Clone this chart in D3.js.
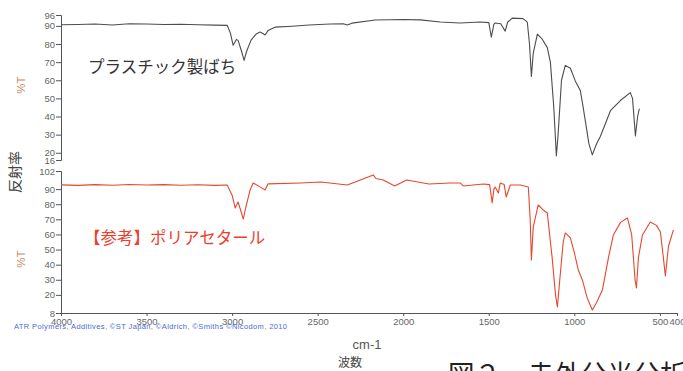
<!DOCTYPE html>
<html>
<head>
<meta charset="utf-8">
<script src="https://cdn.jsdelivr.net/npm/d3@7"></script>
<style>
  body { margin: 0; background: #fff; }
  .axis path, .axis line { stroke: #555; }
  .axis text { fill: #666; font-family: "Liberation Sans", Arial, sans-serif; font-size: 9.5px; }
</style>
</head>
<body>
<div class="chart"></div>
<script>
// wavenumber (cm-1), %T
const sampleSpectrum = [
  [4000, 90.6], [3900, 90.8], [3800, 91.0], [3700, 90.5], [3600, 91.2], [3500, 91.0], [3400, 90.8],
  [3300, 90.9], [3200, 90.6], [3100, 90.4], [3029, 90.3], [3010, 86], [2994, 79.3], [2975, 82.5],
  [2965, 82], [2945, 76], [2930, 71], [2915, 76], [2890, 82], [2860, 85.5], [2836, 86.6], [2820, 85.8],
  [2807, 85], [2790, 87.5], [2749, 89.3], [2650, 89.8], [2550, 90.5], [2427, 91], [2350, 91.2],
  [2327, 90.5], [2300, 91.5], [2164, 93.2], [2000, 93.5], [1900, 93.3], [1784, 92.1], [1667, 91.6],
  [1550, 92.1], [1500, 91.8], [1485, 83.8], [1470, 91], [1462, 91.6], [1430, 91.2], [1404, 87.1],
  [1390, 92], [1363, 94.3], [1300, 94], [1287, 93], [1275, 92.1], [1262, 80], [1251, 62.1], [1240, 75],
  [1216, 85.4], [1190, 83], [1158, 78], [1140, 70], [1120, 45], [1105, 18.2], [1095, 30], [1075, 60],
  [1053, 68.2], [1023, 66.6], [994, 59.5], [965, 54.3], [950, 46], [936, 37.7], [915, 25], [895, 18.8],
  [870, 25], [848, 29], [789, 43.2], [731, 48.8], [673, 53.2], [660, 50], [643, 29.3], [630, 40], [620, 44.3]
];

const referenceSpectrum = [
  [4000, 92.8], [3900, 92.5], [3800, 93.0], [3700, 92.6], [3600, 93.1], [3500, 92.7], [3400, 93.0],
  [3300, 92.6], [3200, 92.9], [3100, 92.5], [3029, 92.7], [3000, 86], [2982, 77.5], [2965, 81.5],
  [2950, 76], [2935, 70.2], [2920, 78], [2895, 89.4], [2877, 94.1], [2830, 91], [2807, 89.4],
  [2790, 93.5], [2600, 94.1], [2480, 94.7], [2327, 92.7], [2250, 96], [2175, 99.4], [2160, 97],
  [2117, 96], [2050, 92.1], [1980, 96], [1850, 93.4], [1725, 94.1], [1667, 94.1], [1649, 92.1],
  [1532, 93.4], [1495, 93], [1480, 80.8], [1470, 90], [1462, 91.4], [1444, 87.4], [1433, 94.1],
  [1410, 93], [1398, 84.8], [1374, 92.7], [1316, 92.7], [1269, 91.4], [1258, 70], [1251, 43.1],
  [1240, 65], [1211, 79.5], [1180, 76], [1158, 74.2], [1130, 45], [1110, 20], [1099, 12], [1085, 30],
  [1065, 55], [1053, 61], [1023, 57.7], [1000, 48], [977, 36.5], [953, 29.9], [925, 18], [895, 10],
  [870, 15], [836, 23.2], [800, 45], [772, 59.6], [730, 68], [690, 70.9], [665, 60], [645, 30],
  [637, 24.6], [625, 45], [602, 59.6], [556, 68.2], [520, 66], [497, 61.6], [480, 45], [468, 32.5],
  [450, 52], [421, 63]
];

const xTickValues = [4000, 3500, 3000, 2500, 2000, 1500, 1000, 500, 400];
const topTickValues = [96, 90, 80, 70, 60, 50, 40, 30, 20, 16];
const bottomTickValues = [102, 90, 80, 70, 60, 50, 40, 30, 20, 8];

const width = 683, height = 371;
const jpFont = '"Noto Sans CJK JP", sans-serif';

const svg = d3.select(".chart").append("svg")
  .attr("width", width)
  .attr("height", height);

const x = d3.scaleLinear().domain([4000, 400]).range([61, 677]);
const yTop = d3.scaleLinear().domain([96, 16]).range([15, 160]);
const yBottom = d3.scaleLinear().domain([102, 8]).range([171, 313]);

function addYAxis(scale, ticks) {
  svg.append("g")
    .attr("class", "axis")
    .attr("transform", "translate(61,0)")
    .call(d3.axisLeft(scale).tickValues(ticks).tickSize(5).tickPadding(1).tickSizeOuter(5));
}

function addPath(data, scale, color) {
  const line = d3.line()
    .x(d => x(d[0]))
    .y(d => scale(d[1]));
  svg.append("path")
    .datum(data)
    .attr("d", line)
    .attr("fill", "none")
    .attr("stroke", color)
    .attr("stroke-width", 1.1)
    .attr("stroke-linejoin", "round");
}

addYAxis(yTop, topTickValues);
addYAxis(yBottom, bottomTickValues);

svg.append("g")
  .attr("class", "axis")
  .attr("transform", "translate(0,313)")
  .call(d3.axisBottom(x).tickValues(xTickValues).tickFormat(d3.format("d")).tickSize(3).tickPadding(2).tickSizeOuter(3));

addPath(sampleSpectrum, yTop, "#4d4d4d");
addPath(referenceSpectrum, yBottom, "#e8462e");

// panel labels
svg.append("text").attr("x", 88).attr("y", 73)
  .attr("font-family", jpFont).attr("font-size", 16.5).attr("fill", "#333")
  .text("プラスチック製ばち");
svg.append("text").attr("x", 84).attr("y", 244)
  .attr("font-family", jpFont).attr("font-size", 16.5).attr("fill", "#ee3d2d")
  .text("【参考】ポリアセタール");

function rotatedLabel(text, cx, cy, color, size, font) {
  svg.append("text")
    .attr("transform", `translate(${cx},${cy}) rotate(-90)`)
    .attr("text-anchor", "middle")
    .attr("font-family", font).attr("font-size", size).attr("fill", color)
    .text(text);
}
rotatedLabel("%T", 25, 85, "#c98a60", 11.5, '"Liberation Sans", sans-serif');
rotatedLabel("%T", 25, 259, "#c98a60", 11.5, '"Liberation Sans", sans-serif');
rotatedLabel("反射率", 20, 172, "#444", 14, jpFont);

svg.append("text").attr("x", 14).attr("y", 329)
  .attr("font-family", '"Liberation Sans", sans-serif').attr("font-size", 7.5).attr("fill", "#4a6bd6")
  .attr("textLength", 273)
  .text("ATR Polymers, Additives, ©ST Japan, ©Aldrich, ©Smiths ©Nicodom, 2010");

svg.append("text").attr("x", 367).attr("y", 349).attr("text-anchor", "middle")
  .attr("font-family", '"Liberation Sans", sans-serif').attr("font-size", 13).attr("fill", "#555")
  .text("cm-1");
svg.append("text").attr("x", 350).attr("y", 367).attr("text-anchor", "middle")
  .attr("font-family", jpFont).attr("font-size", 12).attr("fill", "#444")
  .text("波数");
// figure caption, cut off by the bottom edge as in the original
svg.append("text").attr("x", 448).attr("y", 384)
  .attr("font-family", jpFont).attr("font-size", 26.5).attr("fill", "#222")
  .text("図２　赤外分光分析");
</script>
</body>
</html>
